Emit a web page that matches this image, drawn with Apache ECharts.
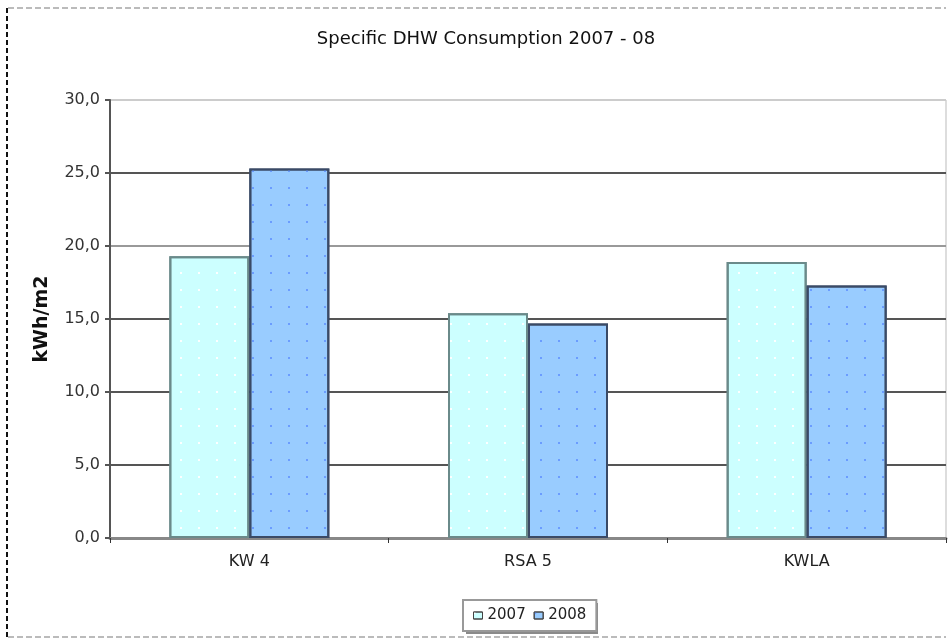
<!DOCTYPE html>
<html>
<head>
<meta charset="utf-8">
<style>
  html, body { margin: 0; padding: 0; background: #fff; }
  #chart { width: 948px; height: 642px; }
</style>
<script src="https://cdn.jsdelivr.net/npm/echarts@6/dist/echarts.min.js"></script>
</head>
<body>
<div id="chart"></div>
<script>
// Specific domestic hot water consumption per site, two years
const categories = ['KW 4', 'RSA 5', 'KWLA'];
const seriesNames = ['2007', '2008'];
const values2007 = [19.3, 15.4, 18.9];
const values2008 = [25.3, 14.7, 17.3];
const yTicks = [0, 5, 10, 15, 20, 25, 30];

const FONT = '"DejaVu Sans", Verdana, sans-serif';
const chart = echarts.init(document.getElementById('chart'), null, { renderer: 'canvas' });

// small dot pattern laid over the bar fill
function dotted(dotColor) {
  return {
    symbol: 'rect',
    symbolSize: 1,
    color: dotColor,
    dashArrayX: [2, 16],
    dashArrayY: [2, 15],
    rotation: 0
  };
}

chart.setOption({
  backgroundColor: '#fff',
  animation: false,
  title: {
    text: 'Specific DHW Consumption 2007 - 08',
    left: 481,
    textAlign: 'center',
    top: 25,
    textStyle: { fontFamily: FONT, fontSize: 18, fontWeight: 'normal', color: '#111' }
  },
  legend: {
    data: seriesNames,
    left: 463,
    top: 600,
    orient: 'horizontal',
    icon: 'rect',
    itemWidth: 9,
    itemHeight: 7,
    itemGap: 8,
    padding: [8, 10],
    borderColor: '#999',
    borderWidth: 2,
    backgroundColor: '#fff',
    z: 6,
    textStyle: { fontFamily: FONT, fontSize: 15, color: '#222', padding: [0, 0, 0, 0] },
    itemStyle: { borderColor: '#444', borderWidth: 1 }
  },
  grid: {
    left: 110,
    right: 2,
    top: 100,
    bottom: 104,
    show: true,
    borderColor: '#bbb',
    borderWidth: 1,
    backgroundColor: 'transparent'
  },
  xAxis: {
    type: 'category',
    data: categories,
    axisLine: { lineStyle: { color: '#888', width: 3 } },
    axisTick: { show: true, alignWithLabel: false, length: 5, lineStyle: { color: '#333', width: 1 } },
    axisLabel: { fontFamily: FONT, fontSize: 16, color: '#222', margin: 16 },
    splitLine: { show: false }
  },
  yAxis: {
    type: 'value',
    min: yTicks[0],
    max: yTicks[yTicks.length - 1],
    interval: 5,
    name: 'kWh/m2',
    nameLocation: 'middle',
    nameGap: 58,
    nameRotate: 90,
    nameTextStyle: { fontFamily: FONT, fontSize: 19, fontWeight: 'bold', color: '#111' },
    axisLine: { show: true, lineStyle: { color: '#555', width: 2 } },
    axisTick: { show: true, inside: false, length: 5, lineStyle: { color: '#555', width: 2 } },
    axisLabel: {
      fontFamily: FONT, fontSize: 16, color: '#333', margin: 10,
      formatter: v => v.toFixed(1).replace('.', ',')
    },
    splitLine: {
      show: true,
      lineStyle: { color: ['#666', '#555', '#555', '#555', '#999', '#555', '#ccc'], width: 2 }
    }
  },
  series: [
    {
      name: seriesNames[0],
      type: 'bar',
      data: values2007,
      barWidth: 80,
      barGap: '0%',
      itemStyle: {
        color: '#CCFFFF',
        borderColor: '#6a8a8a',
        borderWidth: 2,
        decal: dotted('rgba(255,255,255,0.95)')
      }
    },
    {
      name: seriesNames[1],
      type: 'bar',
      data: values2008,
      barWidth: 80,
      barGap: '0%',
      itemStyle: {
        color: '#99CCFF',
        borderColor: '#3a4a66',
        borderWidth: 2,
        decal: dotted('#6b9cff')
      }
    }
  ],
  graphic: [
    // drop shadow behind the legend box
    { type: 'rect', shape: { x: 466, y: 603, width: 132, height: 31 },
      style: { fill: '#8a8a8a' }, z: 1 },
    // dashed outer frame of the chart area
    { type: 'line', shape: { x1: 8, y1: 8, x2: 946, y2: 8 },
      style: { stroke: '#bbb', lineWidth: 2, lineDash: [6, 3] }, z: 10 },
    { type: 'line', shape: { x1: 8, y1: 637, x2: 946, y2: 637 },
      style: { stroke: '#bbb', lineWidth: 2, lineDash: [6, 3] }, z: 10 },
    { type: 'line', shape: { x1: 7, y1: 8, x2: 7, y2: 637 },
      style: { stroke: '#111', lineWidth: 2, lineDash: [5, 3] }, z: 10 }
  ]
});
</script>
</body>
</html>
